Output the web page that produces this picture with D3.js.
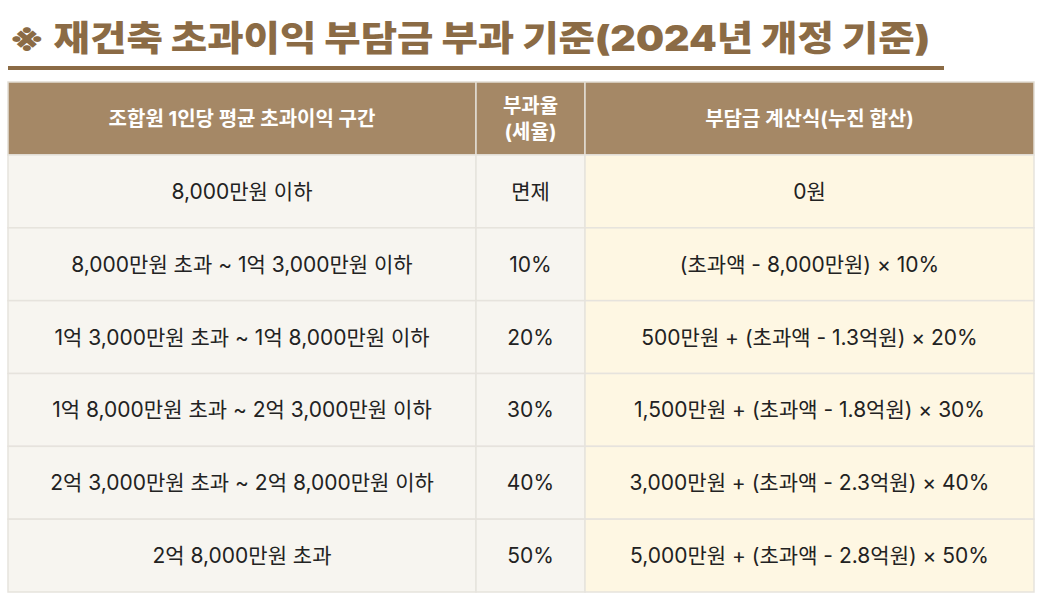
<!DOCTYPE html>
<html><head><meta charset="utf-8">
<script src="https://cdn.jsdelivr.net/npm/d3@7"></script>
<style>body{margin:0;background:#fff;}</style>
</head><body><div id="chart"></div>
<script>
const title = "※ 재건축 초과이익 부담금 부과 기준(2024년 개정 기준)";
const headers = [["조합원 1인당 평균 초과이익 구간"], ["부과율", "(세율)"], ["부담금 계산식(누진 합산)"]];
const ranges = ["8,000만원 이하", "8,000만원 초과 ~ 1억 3,000만원 이하", "1억 3,000만원 초과 ~ 1억 8,000만원 이하",
  "1억 8,000만원 초과 ~ 2억 3,000만원 이하", "2억 3,000만원 초과 ~ 2억 8,000만원 이하", "2억 8,000만원 초과"];
const rates = ["면제", "10%", "20%", "30%", "40%", "50%"];
const formulas = ["0원", "(초과액 - 8,000만원) × 10%", "500만원 + (초과액 - 1.3억원) × 20%",
  "1,500만원 + (초과액 - 1.8억원) × 30%", "3,000만원 + (초과액 - 2.3억원) × 40%", "5,000만원 + (초과액 - 2.8억원) × 50%"];

const W = 1038, H = 598;
const svg = d3.select("#chart").append("svg").attr("width", W).attr("height", H);
const font = "Inter, 'Noto Sans CJK KR', sans-serif";

svg.append("text").attr("x", 8).attr("y", 51).attr("font-family", font).attr("font-weight", 900)
  .attr("font-size", 35).attr("fill", "#8B6B45").attr("textLength", 922).attr("lengthAdjust", "spacingAndGlyphs")
  .text(title);
svg.append("rect").attr("x", 8).attr("y", 66).attr("width", 936).attr("height", 4).attr("fill", "#8B6B45");

const colEdges = [8, 476, 585, 1034];
const x = i => colEdges[i];
const y = d3.scaleLinear().domain([0, 6]).range([155, 592]);
const headTop = 82;

// header
headers.forEach((h, i) => {
  svg.append("rect").attr("x", x(i)).attr("y", headTop).attr("width", x(i + 1) - x(i)).attr("height", y(0) - headTop)
    .attr("fill", "#A58866").attr("stroke", "#e2ddd4").attr("stroke-width", 1.5);
  const cx = (x(i) + x(i + 1)) / 2, cy = (headTop + y(0)) / 2;
  h.forEach((line, j) => {
    svg.append("text").attr("x", cx).attr("y", cy + (j - (h.length - 1) / 2) * 26).attr("dy", "0.36em")
      .attr("text-anchor", "middle").attr("font-family", font).attr("font-weight", 700).attr("font-size", 20)
      .attr("fill", "#fff").text(line);
  });
});

// rows
const cols = [ranges, rates, formulas];
ranges.forEach((_, r) => {
  cols.forEach((col, i) => {
    svg.append("rect").attr("x", x(i)).attr("y", y(r)).attr("width", x(i + 1) - x(i)).attr("height", y(r + 1) - y(r))
      .attr("fill", i === 2 ? "#FEF7E3" : "#F7F5F0").attr("stroke", "#e6e3dd").attr("stroke-width", 1.5);
    svg.append("text").attr("x", (x(i) + x(i + 1)) / 2).attr("y", (y(r) + y(r + 1)) / 2).attr("dy", "0.36em")
      .attr("text-anchor", "middle").attr("font-family", font).attr("font-size", 21).attr("fill", "#222")
      .text(col[r]);
  });
});
</script></body></html>
